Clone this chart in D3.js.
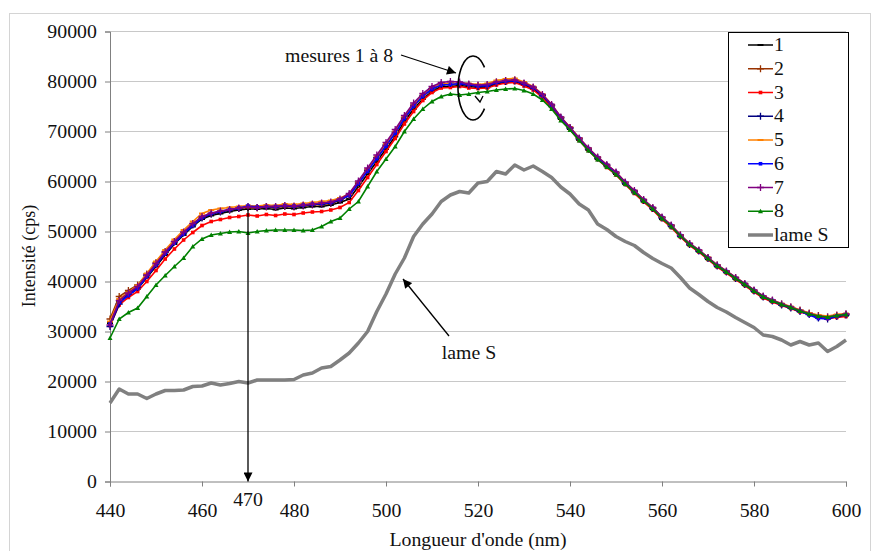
<!DOCTYPE html>
<html>
<head>
<meta charset="utf-8">
<script src="https://cdn.jsdelivr.net/npm/d3@7"></script>
<style>
  body { margin: 0; background: #fff; }
</style>
</head>
<body>
<div id="chart"></div>
<script>
/* Spectres de fluorescence - mesures 1 a 8 et lame S */

// wavelengths, every 2 nm from 440 to 600
const wavelengths = d3.range(440, 601, 2);

const s1 = [31700,36000,37300,38500,40800,43000,45300,47500,49300,51000,52500,53200,53600,54000,54300,54500,54500,54600,54400,54700,54600,54800,55000,55000,55300,55800,56500,59000,61500,64000,66500,69000,72000,74500,76500,78000,79000,79000,79200,79000,78800,78800,79500,79800,80000,79300,78500,77000,75000,72500,70500,68300,66300,64500,63000,61500,59500,57800,56000,54500,52500,51000,49000,47300,46000,44500,43000,41800,40500,39300,38000,36800,36000,35300,34700,34000,33500,33000,33000,33000,33200];
const s2 = [32500,37000,38200,39300,41500,43800,46000,48000,49800,51500,52800,53500,54000,54300,54600,54800,54700,54900,54800,55000,54900,55100,55300,55400,55600,56200,57200,59600,62200,64700,67200,69700,72600,75100,77000,78500,79300,79500,79600,79300,79200,79300,79900,80200,80300,79600,78800,77300,75200,72800,70800,68600,66500,64800,63200,61700,59800,58000,56300,54700,52800,51200,49300,47600,46200,44800,43300,42000,40800,39500,38200,37000,36200,35500,34900,34300,33700,33200,32900,33300,33500];
const s3 = [31200,35300,36800,38000,40000,42200,44500,46500,48300,49800,51200,52000,52400,52800,53000,53300,53100,53400,53200,53500,53400,53700,53900,54000,54300,54800,55800,58200,60800,63400,66000,68600,71500,74000,76200,77800,78700,78800,79000,78700,78600,78700,79300,79700,79800,79100,78300,76800,74800,72400,70400,68200,66200,64400,62800,61300,59400,57600,55900,54300,52400,50800,48900,47200,45900,44400,42900,41700,40400,39200,37900,36700,35900,35200,34600,33900,33400,32900,32600,32800,33000];
const s4 = [31000,35500,37500,38800,41200,43500,45800,47900,49700,51300,52700,53500,53900,54300,54600,55000,54800,55000,54900,55100,55000,55200,55400,55500,55700,56300,57300,59800,62300,64800,67300,69900,72800,75300,77200,78600,79400,79600,79500,79300,79000,79100,79700,80000,80100,79500,78700,77200,75200,72700,70600,68500,66500,64700,63200,61700,59700,58000,56200,54600,52700,51100,49100,47400,46100,44600,43100,41900,40600,39400,38100,36900,36100,35300,34700,34000,33400,32700,32500,33000,33300];
const s5 = [32000,36500,37800,39200,41600,44000,46300,48400,50300,52000,53600,54300,54600,54800,55000,55200,55100,55300,55200,55500,55400,55600,55800,56000,56200,56700,57500,59900,62500,65000,67500,70000,72900,75400,77300,78700,79500,79600,79700,79600,79400,79600,80200,80500,80600,79900,79000,77500,75400,72900,70900,68700,66700,64900,63400,61900,59900,58200,56400,54800,52900,51300,49300,47600,46300,44800,43300,42100,40800,39600,38300,37100,36300,35600,35000,34300,33700,33300,33100,33400,33600];
const s6 = [31500,35800,37200,38600,41000,43300,45600,47700,49500,51200,52800,53600,54000,54400,54700,55100,54900,55000,55000,55200,55100,55300,55500,55600,55800,56400,57200,59600,62100,64600,67100,69700,72600,75100,77100,78500,79300,79400,79600,79400,79100,79200,79800,80100,80200,79600,78800,77300,75300,72800,70700,68600,66600,64800,63300,61800,59800,58100,56300,54700,52800,51200,49200,47500,46200,44700,43200,42000,40700,39500,38200,37000,36200,35400,34800,34100,33300,32600,32600,33100,33400];
const s7 = [31300,36200,37700,39000,41300,43600,45900,48000,49900,51600,53000,53700,54100,54400,54700,54900,54800,55000,55000,55200,55100,55300,55500,55700,55900,56500,57600,60100,62700,65300,67800,70400,73200,75700,77600,79000,79800,80000,79900,79500,79300,79400,79900,80200,80300,79700,78900,77400,75400,72900,70800,68700,66700,64900,63400,61900,59900,58200,56400,54800,52900,51300,49300,47600,46300,44800,43300,42100,40800,39600,38300,37100,36300,35500,34900,34200,33600,33100,32900,33200,33500];
const s8 = [28700,32500,33800,34700,37000,39300,41200,43000,44700,47000,48500,49300,49600,49900,50000,49700,50000,50200,50300,50300,50300,50200,50300,51000,52000,52700,54500,56000,59000,62000,64500,67000,70000,72500,74500,76000,77000,77500,77300,77500,77800,78000,78300,78500,78600,78200,77500,76300,74500,72200,70300,68200,66200,64400,62900,61400,59500,57800,56100,54500,52600,51000,49100,47400,46100,44600,43100,41900,40600,39400,38100,36900,36100,35400,34800,34100,33500,33100,32900,33200,33400];
const lameS = [15700,18500,17500,17500,16600,17500,18200,18200,18300,19000,19100,19700,19300,19600,20000,19700,20300,20300,20300,20300,20400,21300,21700,22700,23000,24300,25700,27700,30000,34000,37500,41500,44700,49000,51500,53500,56000,57300,58000,57700,59700,60000,62000,61500,63300,62300,63100,62000,60800,58900,57500,55500,54300,51500,50400,49000,48000,47200,45800,44600,43600,42700,40800,38700,37400,36000,34800,33900,32800,31800,30800,29300,29000,28300,27300,28000,27300,27700,26000,27000,28300];

const seriesNames = ["1","2","3","4","5","6","7","8"];
const seriesValues = [s1, s2, s3, s4, s5, s6, s7, s8];
const seriesColors = ["#000000","#993300","#ff0000","#000080","#ff8000","#0000ff","#800080","#008000"];
const seriesMarkers = ["dash","plus","square","plus","dash","square","plus","tri"];

const xTicks = [440,460,480,500,520,540,560,580,600];
const yTicks = [0,10000,20000,30000,40000,50000,60000,70000,80000,90000];

const width = 877, height = 551;
const sx = 1.1; // text is a bit wide in the original
const serif = "Liberation Serif, Times New Roman, Times, Tinos, Noto Serif, DejaVu Serif, FreeSerif, serif";

const svg = d3.select("#chart")
  .append("svg")
  .attr("width", width)
  .attr("height", height)
  .attr("font-family", serif);

svg.append("rect").attr("width", width).attr("height", height).attr("fill", "#fff");
svg.append("rect")
  .attr("x", 9.5).attr("y", 13.5).attr("width", 861).attr("height", 545)
  .attr("fill", "none").attr("stroke", "#d4d4d4");

const x = d3.scaleLinear().domain([440, 600]).range([110, 846]);
const y = d3.scaleLinear().domain([0, 90000]).range([481.5, 31.5]);

// arrow head
svg.append("defs").append("marker")
  .attr("id", "arrow")
  .attr("viewBox", "0 0 10 10")
  .attr("refX", 10).attr("refY", 5)
  .attr("markerWidth", 11).attr("markerHeight", 9)
  .attr("markerUnits", "userSpaceOnUse")
  .attr("orient", "auto")
  .append("path").attr("d", "M0,0L10,5L0,10z").attr("fill", "#000");

// grid
svg.append("g")
  .selectAll("line")
  .data(yTicks.filter(d => d > 0))
  .join("line")
  .attr("x1", x(440)).attr("x2", x(600))
  .attr("y1", d => y(d)).attr("y2", d => y(d))
  .attr("stroke", "#c8c8c8");

// axes
const yAxis = g => g
  .attr("transform", `translate(${x(440)},0)`)
  .call(d3.axisLeft(y).tickValues(yTicks).tickSize(5).tickPadding(7).tickFormat(d => d))
  .attr("font-family", serif)
  .attr("font-size", 18)
  .call(g => g.select(".domain").attr("stroke", "#808080"))
  .call(g => g.selectAll(".tick line").attr("stroke", "#808080"))
  .call(g => g.selectAll(".tick text")
    .attr("fill", "#111").attr("transform", `scale(${sx},1)`));

const xAxis = g => g
  .attr("transform", `translate(0,${y(0)})`)
  .call(d3.axisBottom(x).tickValues(xTicks).tickSize(5).tickPadding(18).tickFormat(d => d))
  .attr("font-family", serif)
  .attr("font-size", 18)
  .call(g => g.select(".domain").attr("stroke", "#808080"))
  .call(g => g.selectAll(".tick line").attr("stroke", "#808080"))
  .call(g => g.selectAll(".tick text")
    .attr("fill", "#111").attr("transform", `scale(${sx},1)`));

svg.append("g").call(yAxis);
svg.append("g").call(xAxis);

function label(px, py, str, anchor, rot) {
  return svg.append("text")
    .attr("transform", `translate(${px},${py}) scale(${sx},1)` + (rot ? ` rotate(${rot})` : ""))
    .attr("text-anchor", anchor)
    .attr("font-size", 18)
    .attr("fill", "#111")
    .text(str);
}

label(478, 546, "Longueur d'onde (nm)", "middle");
label(35, 256, "Intensité (cps)", "middle", -90);

// markers
function drawMarker(g, type, color) {
  if (type === "dash") {
    g.append("path").attr("d", "M-3,0H3").attr("stroke", color).attr("stroke-width", 2);
  } else if (type === "plus") {
    g.append("path").attr("d", "M-3.5,0H3.5M0,-3.5V3.5").attr("stroke", color).attr("stroke-width", 1.3);
  } else if (type === "square") {
    g.append("rect").attr("x", -1.8).attr("y", -1.8).attr("width", 3.6).attr("height", 3.6).attr("fill", color);
  } else {
    g.append("path").attr("d", "M-2.5,2L2.5,2L0,-2.5z").attr("fill", color);
  }
}

const line = d3.line()
  .x((d, i) => x(wavelengths[i]))
  .y(d => y(d));

seriesValues.forEach((vals, k) => {
  const g = svg.append("g");
  g.append("path")
    .attr("d", line(vals))
    .attr("fill", "none")
    .attr("stroke", seriesColors[k])
    .attr("stroke-width", 1.6);
  g.selectAll(".m")
    .data(vals)
    .join("g")
    .attr("transform", (d, i) => `translate(${x(wavelengths[i])},${y(d)})`)
    .each(function () { drawMarker(d3.select(this), seriesMarkers[k], seriesColors[k]); });
});

svg.append("path")
  .attr("d", line(lameS))
  .attr("fill", "none")
  .attr("stroke", "#808080")
  .attr("stroke-width", 3.5)
  .attr("stroke-linejoin", "round");

// legend
const leg = svg.append("g");
leg.append("rect")
  .attr("x", 728.5).attr("y", 32.5).attr("width", 120).attr("height", 215)
  .attr("fill", "#fff").attr("stroke", "#000");

const legNames = seriesNames.concat(["lame S"]);
legNames.forEach((name, i) => {
  const ly = 45 + i * 23.75;
  const isS = i === 8;
  leg.append("line")
    .attr("x1", 748).attr("x2", 773).attr("y1", ly).attr("y2", ly)
    .attr("stroke", isS ? "#808080" : seriesColors[i])
    .attr("stroke-width", isS ? 3.5 : 1.5);
  if (!isS) {
    drawMarker(leg.append("g").attr("transform", `translate(760.5,${ly})`), seriesMarkers[i], seriesColors[i]);
  }
  leg.append("text")
    .attr("transform", `translate(774,${ly + 6}) scale(${sx},1)`)
    .attr("font-size", 18)
    .attr("fill", "#111")
    .text(name);
});

// annotations
label(285, 62, "mesures 1 à 8", "start");
svg.append("line")
  .attr("x1", 401).attr("y1", 55).attr("x2", 456).attr("y2", 73)
  .attr("stroke", "#000").attr("stroke-width", 1.3)
  .attr("marker-end", "url(#arrow)");

// circular arrow round the peak
const cx = 473, cy = 88, rx = 15, ry = 32;
const arc = d3.range(-40, -325, -5).map(t => [cx + rx * Math.cos(t * Math.PI / 180), cy + ry * Math.sin(t * Math.PI / 180)]);
svg.append("path")
  .attr("d", d3.line().curve(d3.curveBasis)(arc))
  .attr("fill", "none").attr("stroke", "#000").attr("stroke-width", 1.6);
svg.append("path")
  .attr("d", "M475,96L480,102L483,96")
  .attr("fill", "none").attr("stroke", "#000").attr("stroke-width", 1.3);

label(469, 359, "lame S", "middle");
svg.append("line")
  .attr("x1", 449).attr("y1", 336).attr("x2", 403).attr("y2", 279)
  .attr("stroke", "#000").attr("stroke-width", 1.3)
  .attr("marker-end", "url(#arrow)");

// 470 nm arrow
svg.append("line")
  .attr("x1", x(470)).attr("y1", y(54500)).attr("x2", x(470)).attr("y2", y(0))
  .attr("stroke", "#000").attr("stroke-width", 1.3)
  .attr("marker-end", "url(#arrow)");
label(x(470), 506, "470", "middle");
</script>
</body>
</html>
